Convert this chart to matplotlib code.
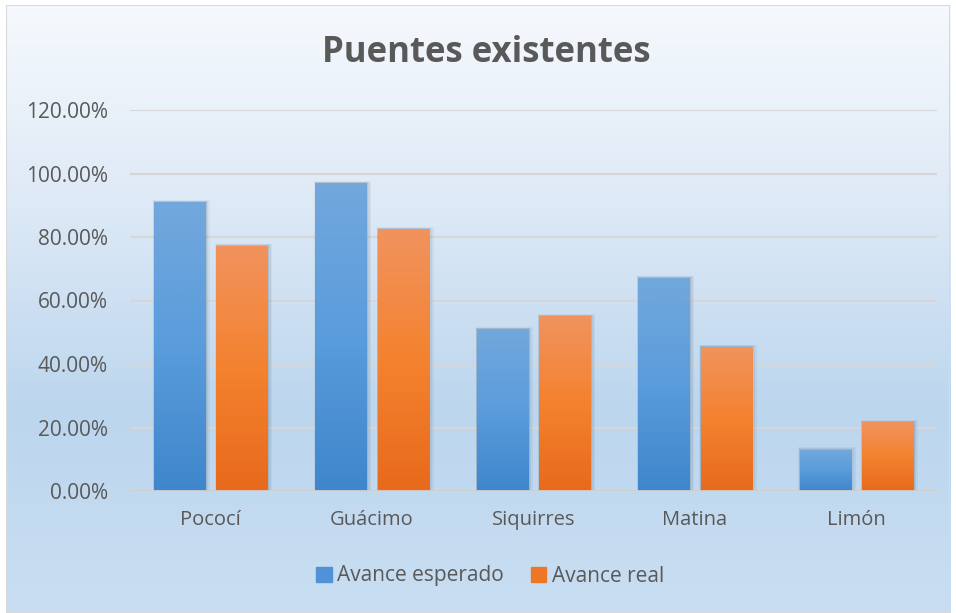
import numpy as np
import matplotlib.pyplot as plt
from matplotlib.patches import Rectangle
from matplotlib.ticker import FuncFormatter
from matplotlib.colors import LinearSegmentedColormap

# datos
categorias = ["Pococí", "Guácimo", "Siquirres", "Matina", "Limón"]
avance_esperado = [0.91, 0.97, 0.51, 0.671, 0.13]
avance_real = [0.772, 0.825, 0.551, 0.454, 0.217]
series = ["Avance esperado", "Avance real"]

plt.rcParams['font.family'] = ['Open Sans', 'DejaVu Sans']
txt_color = "#595959"

fig = plt.figure(figsize=(9.56, 6.13), dpi=100)
fig.patch.set_facecolor("white")

# fondo del grafico con degradado
bg = fig.add_axes([6 / 956, 0, 944 / 956, 608 / 613])
bg_cmap = LinearSegmentedColormap.from_list("bg", ["#f6f9fd", "#dde9f6", "#bcd6ee", "#c9def2"])
bg.imshow(np.linspace(0, 1, 256).reshape(-1, 1), aspect="auto", cmap=bg_cmap,
          extent=[0, 1, 0, 1], origin="upper")
bg.set_xlim(0, 1)
bg.set_ylim(0, 1)
bg.axis("off")
bg.add_patch(Rectangle((0, 0), 1, 1, transform=bg.transAxes, fill=False,
                       edgecolor="#d9d9d9", linewidth=1.5))

ax = fig.add_axes([130 / 956, (613 - 491) / 613, 807 / 956, (491 - 110) / 613])
ax.set_facecolor("none")

x = np.arange(len(categorias))
w = 0.316
gap = 0.07

cmap_azul = LinearSegmentedColormap.from_list("azul", ["#3f86cb", "#5a9cdc", "#72a8dc"])
cmap_naranja = LinearSegmentedColormap.from_list("naranja", ["#e86a1c", "#f4822f", "#f1935e"])

def barras_degradado(xpos, vals, cmap, color):
    bars = ax.bar(xpos, vals, w, color=color, zorder=3, label=None)
    for b in bars:
        x0, y0 = b.get_x(), b.get_y()
        bw, bh = b.get_width(), b.get_height()
        # sombra suave
        for k, a in enumerate([0.10, 0.07, 0.05]):
            d = 0.008 * (k + 1)
            ax.add_patch(Rectangle((x0 - d * 0.3, y0 - 0.004), bw + d * 1.6, bh + 0.004 + d * 0.3,
                                   facecolor="#1f3348", alpha=a, edgecolor="none", zorder=2))
        im = ax.imshow(np.linspace(0, 1, 128).reshape(-1, 1), aspect="auto", cmap=cmap,
                       extent=[x0, x0 + bw, y0, y0 + bh], origin="lower", zorder=3.5)
        im.set_clip_path(b)
    return bars

barras_degradado(x - w / 2 - gap / 2, avance_esperado, cmap_azul, "#5b9bd5")
barras_degradado(x + w / 2 + gap / 2, avance_real, cmap_naranja, "#ed7d31")

ax.set_xlim(-0.5, len(categorias) - 0.5)
ax.set_ylim(0, 1.2)
ax.set_yticks(np.arange(0, 1.21, 0.2))
ax.yaxis.set_major_formatter(FuncFormatter(lambda v, p: f"{v * 100:.2f}%"))
ax.set_xticks(x)
ax.set_xticklabels(categorias)
ax.tick_params(axis="both", length=0, colors=txt_color)
ax.tick_params(axis="y", pad=16, labelsize=15)
ax.tick_params(axis="x", pad=14, labelsize=14.5)
ax.grid(axis="y", color="#d6d6d6", linewidth=1.5, zorder=1)
ax.set_axisbelow(True)
for s in ax.spines.values():
    s.set_visible(False)
ax.axhline(0, color="#cfcfcf", linewidth=2, zorder=4)

fig.text(486 / 956, 1 - 53 / 613, "Puentes existentes", fontsize=25, fontweight="bold",
         color=txt_color, ha="center", va="center")

handles = [Rectangle((0, 0), 1, 1, color="#4f92d6"), Rectangle((0, 0), 1, 1, color="#ee7627")]
fig.legend(handles, series, loc="center", bbox_to_anchor=(490 / 956, 1 - 576 / 613),
           ncol=2, frameon=False, fontsize=15, labelcolor=txt_color,
           handlelength=0.75, handleheight=0.75, handletextpad=0.25, columnspacing=1.3)

fig.savefig("out.png", dpi=100)
